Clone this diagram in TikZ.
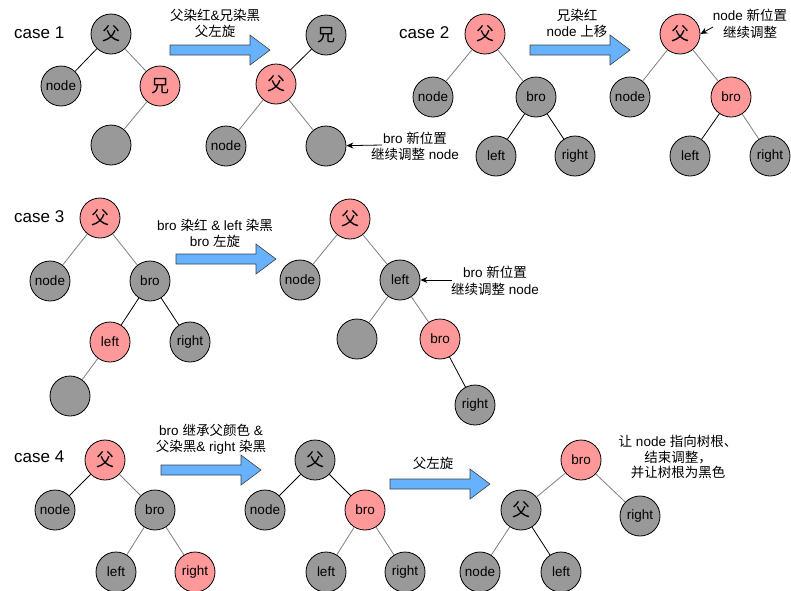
\documentclass[tikz,border=0pt]{standalone}
\usepackage{fontspec}
\setmainfont{Liberation Sans}
\newfontfamily\cjk{Noto Sans CJK SC}
\usetikzlibrary{arrows.meta}
\definecolor{gnode}{HTML}{999999}
\definecolor{rnode}{HTML}{FF9999}
\definecolor{barrow}{HTML}{66B2FF}
\tikzset{
  tn/.style={circle,draw=black,line width=0.8pt,minimum size=40pt,inner sep=0pt,font=\fontsize{13.5}{16}\selectfont},
  gn/.style={tn,fill=gnode},
  rn/.style={tn,fill=rnode},
  cjkn/.style={font=\fontsize{18}{20}\selectfont\cjk},
  de/.style={draw=black,line width=0.8pt},
  le/.style={draw=black!50,line width=0.8pt},
  lbl/.style={font=\fontsize{13.5}{16.5}\selectfont,align=center,inner sep=0pt},
  casel/.style={font=\fontsize{17}{20}\selectfont,anchor=west,inner sep=0pt},
  ann/.style={-{Stealth[length=7pt,width=6pt]},line width=0.8pt},
  bigarr/.pic={\filldraw[fill=barrow,draw=black!75,line width=0.6pt] (0,-5) -- (80,-5) -- (80,-15) -- (100,0) -- (80,15) -- (80,5) -- (0,5) -- cycle;}
}
\begin{document}
\begin{tikzpicture}[x=1pt,y=-1pt]
\useasboundingbox (0,0) rectangle (791,590);

% ---------- case 1 ----------
\node[casel] (k1) at (14,33) {case 1};
\node[gn,cjkn] (a1p) at (111,34) {父};
\node[gn] (a1n) at (61,86) {node};
\node[rn,cjkn] (a1b) at (160,86) {兄};
\node[gn] (a1e) at (111,145) {};
\draw[de] (a1p) -- (a1n);
\draw[le] (a1p) -- (a1b);
\draw[le] (a1b) -- (a1e);

\pic at (170,50) {bigarr};
\node[lbl] (t1) at (215,23.5) {{\cjk 父染红}\&{\cjk 兄染黑}\\{\cjk 父左旋}};

\node[gn,cjkn] (b1b) at (326,35) {兄};
\node[rn,cjkn] (b1p) at (276,84) {父};
\node[gn] (b1n) at (226,146) {node};
\node[gn] (b1e) at (326,146) {};
\draw[de] (b1b) -- (b1p);
\draw[le] (b1p) -- (b1n);
\draw[le] (b1p) -- (b1e);
\node[lbl] (n1) at (415,146.5) {bro {\cjk 新位置}\\{\cjk 继续调整} node};
\coordinate (c1a) at (382,145);
\draw[ann] (c1a) -- (b1e);

% ---------- case 2 ----------
\node[casel] (k2) at (399,33) {case 2};
\node[rn,cjkn] (a2p) at (485,34) {父};
\node[gn] (a2n) at (433,97) {node};
\node[gn] (a2b) at (536,97) {bro};
\node[gn] (a2l) at (496,156) {left};
\node[gn] (a2r) at (575,156) {right};
\draw[le] (a2p) -- (a2n);
\draw[le] (a2p) -- (a2b);
\draw[de] (a2b) -- (a2l);
\draw[de] (a2b) -- (a2r);

\pic at (530,50) {bigarr};
\node[lbl] (t2) at (577,23.5) {{\cjk 兄染红}\\node {\cjk 上移}};

\node[rn,cjkn] (b2p) at (680,34) {父};
\node[gn] (b2n) at (630,97) {node};
\node[rn] (b2b) at (731,97) {bro};
\node[gn] (b2l) at (690,156) {left};
\node[gn] (b2r) at (770,156) {right};
\draw[le] (b2p) -- (b2n);
\draw[le] (b2p) -- (b2b);
\draw[de] (b2b) -- (b2l);
\draw[le] (b2b) -- (b2r);
\node[lbl] (n2) at (750,24) {node {\cjk 新位置}\\{\cjk 继续调整}};
\coordinate (c2a) at (713,27);
\draw[ann] (c2a) -- (b2p.east);

% ---------- case 3 ----------
\node[casel] (k3) at (14,217) {case 3};
\node[rn,cjkn] (a3p) at (100,218) {父};
\node[gn] (a3n) at (50,281) {node};
\node[gn] (a3b) at (150,281) {bro};
\node[rn] (a3l) at (110,342) {left};
\node[gn] (a3r) at (190,342) {right};
\node[gn] (a3e) at (70,396) {};
\draw[le] (a3p) -- (a3n);
\draw[le] (a3p) -- (a3b);
\draw[de] (a3b) -- (a3l);
\draw[de] (a3b) -- (a3r);
\draw[le] (a3l) -- (a3e);

\pic at (176,259) {bigarr};
\node[lbl] (t3) at (215,233.5) {bro {\cjk 染红} \& left {\cjk 染黑}\\bro {\cjk 左旋}};

\node[rn,cjkn] (b3p) at (350,219) {父};
\node[gn] (b3n) at (300,280) {node};
\node[gn] (b3l) at (400,280) {left};
\node[gn] (b3e) at (357,339) {};
\node[rn] (b3b) at (440,339) {bro};
\node[gn] (b3r) at (475,405) {right};
\draw[le] (b3p) -- (b3n);
\draw[le] (b3p) -- (b3l);
\draw[le] (b3l) -- (b3e);
\draw[le] (b3l) -- (b3b);
\draw[de] (b3b) -- (b3r);
\node[lbl] (n3) at (495,281) {bro {\cjk 新位置}\\{\cjk 继续调整} node};
\coordinate (c3a) at (452,280);
\draw[ann] (c3a) -- (b3l);

% ---------- case 4 ----------
\node[casel] (k4) at (14,457) {case 4};
\node[rn,cjkn] (a4p) at (105,460) {父};
\node[gn] (a4n) at (55,510) {node};
\node[gn] (a4b) at (155,510) {bro};
\node[gn] (a4l) at (116,572) {left};
\node[rn] (a4r) at (195,572) {right};
\draw[de] (a4p) -- (a4n);
\draw[le] (a4p) -- (a4b);
\draw[le] (a4b) -- (a4l);
\draw[le] (a4b) -- (a4r);

\pic at (161,470) {bigarr};
\node[lbl] (t4) at (211,439) {bro {\cjk 继承父颜色} \&\\{\cjk 父染黑}\& right {\cjk 染黑}};

\node[gn,cjkn] (b4p) at (315,460) {父};
\node[gn] (b4n) at (265,510) {node};
\node[rn] (b4b) at (365,510) {bro};
\node[gn] (b4l) at (326,572) {left};
\node[gn] (b4r) at (405,572) {right};
\draw[de] (b4p) -- (b4n);
\draw[de] (b4p) -- (b4b);
\draw[le] (b4b) -- (b4l);
\draw[le] (b4b) -- (b4r);

\pic at (390,484) {bigarr};
\node[lbl] (t5) at (433,463) {\cjk 父左旋};

\node[rn] (c4b) at (581,460) {bro};
\node[gn,cjkn] (c4p) at (521,510) {父};
\node[gn] (c4r) at (640,516) {right};
\node[gn] (c4n) at (480,572) {node};
\node[gn] (c4l) at (561,572) {left};
\draw[le] (c4b) -- (c4p);
\draw[le] (c4b) -- (c4r);
\draw[le] (c4p) -- (c4n);
\draw[de] (c4p) -- (c4l);
\node[lbl,font=\fontsize{13.5}{15.5}\selectfont] (n4) at (678,457) {{\cjk 让} node {\cjk 指向树根、}\\{\cjk 结束调整，}\\{\cjk 并让树根为黑色}};
\end{tikzpicture}
\end{document}
